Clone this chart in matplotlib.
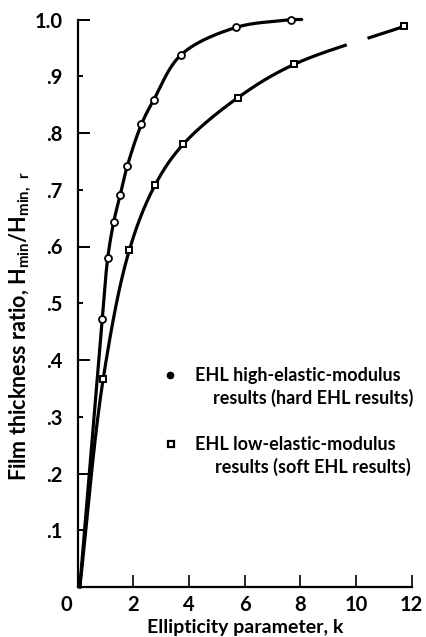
import numpy as np
import matplotlib
matplotlib.use("Agg")
import matplotlib.pyplot as plt

# Hard EHL (high-elastic-modulus) results
hard_k = [0.89, 1.08, 1.30, 1.53, 1.78, 2.29, 2.74, 3.72, 5.69, 7.66]
hard_ratio = [0.473, 0.579, 0.644, 0.691, 0.741, 0.815, 0.859, 0.938, 0.986, 1.000]

# Soft EHL (low-elastic-modulus) results
soft_k = [0.92, 1.86, 2.79, 3.79, 5.75, 7.78, 11.73]
soft_ratio = [0.367, 0.594, 0.709, 0.780, 0.862, 0.921, 0.988]

# Both curves run out of the origin
curve_start = (0.08, 0.0)

x_ticks = [2, 4, 6, 8, 10, 12]
y_major = [0.2, 0.4, 0.6, 0.8, 1.0]
y_minor = [0.1, 0.3, 0.5, 0.7, 0.9]
y_major_labels = [".2", ".4", ".6", ".8", "1.0"]
y_minor_labels = [".1", ".3", ".5", ".7", ".9"]

plt.rcParams["font.family"] = ["Lato", "DejaVu Sans"]
plt.rcParams["font.weight"] = "bold"
plt.rcParams["mathtext.default"] = "regular"

W, H = 426, 637
X0, X1, Y0, Y1 = 77.6, 411.7, 587.0, 19.5
SX = (X1 - X0) / 12.0      # pixels per unit k
SY = (Y0 - Y1) / 1.0       # pixels per unit ratio


def smooth_curve(x, y, n=40):
    """Centripetal Catmull-Rom curve through the points, built in pixel space."""
    p = np.column_stack([np.asarray(x, float) * SX, np.asarray(y, float) * SY])
    p = np.vstack([2 * p[0] - p[1], p, 2 * p[-1] - p[-2]])
    out = []
    for i in range(1, len(p) - 2):
        p0, p1, p2, p3 = p[i - 1], p[i], p[i + 1], p[i + 2]
        t0 = 0.0
        t1 = t0 + np.linalg.norm(p1 - p0) ** 0.5
        t2 = t1 + np.linalg.norm(p2 - p1) ** 0.5
        t3 = t2 + np.linalg.norm(p3 - p2) ** 0.5
        t = np.linspace(t1, t2, n)[:, None]
        a1 = (t1 - t) / (t1 - t0) * p0 + (t - t0) / (t1 - t0) * p1
        a2 = (t2 - t) / (t2 - t1) * p1 + (t - t1) / (t2 - t1) * p2
        a3 = (t3 - t) / (t3 - t2) * p2 + (t - t2) / (t3 - t2) * p3
        b1 = (t2 - t) / (t2 - t0) * a1 + (t - t0) / (t2 - t0) * a2
        b2 = (t3 - t) / (t3 - t1) * a2 + (t - t1) / (t3 - t1) * a3
        c = (t2 - t) / (t2 - t1) * b1 + (t - t1) / (t2 - t1) * b2
        out.append(c if i == 1 else c[1:])
    c = np.vstack(out)
    return c[:, 0] / SX, c[:, 1] / SY


fig = plt.figure(figsize=(W / 100, H / 100), dpi=100)
ax = fig.add_axes([X0 / W, 1 - Y0 / H, (X1 - X0) / W, (Y0 - Y1) / H])

# Hard EHL curve, running a little past its last point
cx, cy = smooth_curve([curve_start[0]] + hard_k, [curve_start[1]] + hard_ratio)
cx = np.r_[cx, 8.05]
cy = np.r_[cy, cy[-1]]
ax.plot(cx, cy, color="black", lw=2.3, solid_capstyle="round", clip_on=False)

# Soft EHL curve (with a break in the ink near k = 10)
cx, cy = smooth_curve([curve_start[0]] + soft_k, [curve_start[1]] + soft_ratio)
cy = np.where((cx > 9.66) & (cx < 10.38), np.nan, cy)
ax.plot(cx, cy, color="black", lw=2.3, clip_on=False)

ax.plot(hard_k, hard_ratio, linestyle="none", marker="o", ms=5,
        mfc="white", mec="black", mew=1.3, clip_on=False)
ax.plot(soft_k, soft_ratio, linestyle="none", marker="s", ms=5,
        mfc="white", mec="black", mew=1.4, clip_on=False)

ax.set_xlim(0, 12)
ax.set_ylim(0, 1.0)
for s in ("top", "right"):
    ax.spines[s].set_visible(False)
for s in ("left", "bottom"):
    ax.spines[s].set_linewidth(1.6)

TICK_FONT = dict(fontsize=14.5, fontweight="bold")
ax.set_xticks(x_ticks)
ax.set_xticklabels([str(v) for v in x_ticks], **TICK_FONT)
ax.set_yticks(y_major)
ax.set_yticklabels(y_major_labels, **TICK_FONT)
ax.set_yticks(y_minor, minor=True)
ax.set_yticklabels(y_minor_labels, minor=True, **TICK_FONT)
ax.tick_params(axis="x", direction="in", length=8.5, width=1.2, pad=6)
ax.tick_params(axis="y", which="major", direction="in", length=8.5, width=1.4, pad=11)
ax.tick_params(axis="y", which="minor", direction="in", length=3.5, width=1.4, pad=11)
ax.annotate("0", xy=(0, 0), xytext=(-11, -18), textcoords="offset pixels",
            ha="center", va="center", **TICK_FONT)

fig.text(245 / W, 1 - 628 / H, "Ellipticity parameter, k",
         ha="center", va="center", fontsize=14, fontweight="bold")
fig.text(21 / W, 1 - 326 / H,
         r"Film thickness ratio, H$_{min}$/H$_{min,\ r}$",
         rotation=90, ha="center", va="center", fontsize=15.5, fontweight="bold")

# Key
ax.plot([170 / W], [1 - 375 / H], transform=fig.transFigure, marker="o",
        ms=4.5, color="black", linestyle="none", clip_on=False)
ax.plot([171 / W], [1 - 444 / H], transform=fig.transFigure, marker="s",
        ms=5, mfc="white", mec="black", mew=1.6, linestyle="none", clip_on=False)
key_text = [
    (195, 375, "EHL high-elastic-modulus"),
    (213, 398, "results (hard EHL results)"),
    (195, 444, "EHL low-elastic-modulus"),
    (215, 467, "results (soft EHL results)"),
]
for px, py, s in key_text:
    fig.text(px / W, 1 - py / H, s, ha="left", va="center",
             fontsize=13, fontweight="bold")

fig.savefig("out.png", dpi=100)
